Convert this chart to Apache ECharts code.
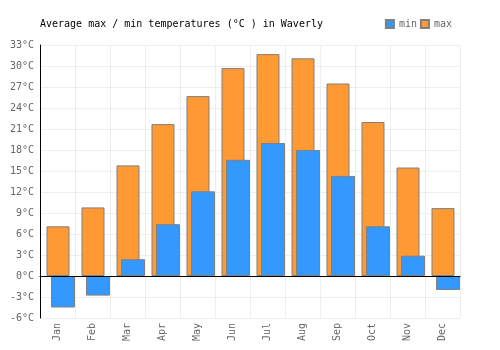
<!DOCTYPE html>
<html>
<head>
<meta charset="utf-8">
<script src="https://cdn.jsdelivr.net/npm/echarts@6/dist/echarts.min.js"></script>
</head>
<body style="margin:0">
<div id="main" style="width:500px;height:350px;"></div>
<script>
	// data
	var months = ['Jan', 'Feb', 'Mar', 'Apr', 'May', 'Jun', 'Jul', 'Aug', 'Sep', 'Oct', 'Nov', 'Dec'];
	var tempMax = [7.1, 9.8, 15.8, 21.7, 25.7, 29.7, 31.7, 31.1, 27.5, 22.0, 15.5, 9.7];
	var tempMin = [-4.5, -2.8, 2.4, 7.4, 12.1, 16.6, 19.0, 18.0, 14.3, 7.1, 2.9, -2.0];

	var font = 'DejaVu Sans Mono';
	var myChart = echarts.init(document.getElementById('main'));
	var option = {
		animation: false,
		title: {
			text: 'Average max / min temperatures (°C ) in Waverly',
			left: 40,
			top: 19,
			padding: 0,
			textStyle: { fontFamily: font, fontSize: 10, fontWeight: 'normal', color: '#000' }
		},
		legend: {
			data: ['min', 'max'],
			right: 48,
			top: 19,
			padding: 0,
			itemWidth: 8,
			itemHeight: 8,
			itemGap: 3,
			icon: 'rect',
			textStyle: { fontFamily: font, fontSize: 10, color: '#666' }
		},
		grid: [
			{ left: 40, top: 45, width: 420, height: 273, outerBoundsMode: 'none' },
			{ left: 43.25, top: 45, width: 420, height: 273, outerBoundsMode: 'none' }
		],
		xAxis: [
			{
				type: 'category',
				gridIndex: 0,
				data: months,
				axisLine: { show: false, onZero: false },
				axisTick: { show: false },
				splitLine: { show: true, lineStyle: { color: '#eeeeee' } },
				axisLabel: { rotate: 90, margin: 5, fontFamily: font, fontSize: 10, color: '#666' }
			},
			{
				type: 'category',
				gridIndex: 1,
				data: months,
				show: false
			},
			{
				// zero line drawn over the bars
				type: 'category',
				gridIndex: 0,
				data: months,
				z: 10,
				axisLine: { show: true, onZero: true, lineStyle: { color: '#000', width: 1 } },
				axisTick: { show: false },
				axisLabel: { show: false },
				splitLine: { show: false }
			}
		],
		yAxis: [
			{
				type: 'value',
				gridIndex: 0,
				min: -6,
				max: 33,
				interval: 3,
				axisLine: { show: true, lineStyle: { color: '#000' } },
				axisTick: { show: false },
				splitLine: { show: true, lineStyle: { color: '#eeeeee' } },
				axisLabel: { formatter: '{value}°C', margin: 6, fontFamily: font, fontSize: 10, color: '#666' }
			},
			{
				type: 'value',
				gridIndex: 1,
				min: -6,
				max: 33,
				interval: 3,
				show: false,
				splitLine: { show: false }
			}
		],
		series: [
			{
				name: 'max',
				type: 'bar',
				xAxisIndex: 1,
				yAxisIndex: 1,
				data: tempMax,
				barWidth: 23,
				barGap: '-80.4%',
				itemStyle: { color: '#ff9933', borderColor: '#808080', borderWidth: 1 }
			},
			{
				name: 'min',
				type: 'bar',
				xAxisIndex: 1,
				yAxisIndex: 1,
				data: tempMin,
				barWidth: 24,
				barGap: '-80.4%',
				itemStyle: { color: '#3399ff', borderColor: '#808080', borderWidth: 1 }
			}
		]
	};
	myChart.setOption(option);
</script>
</body>
</html>
